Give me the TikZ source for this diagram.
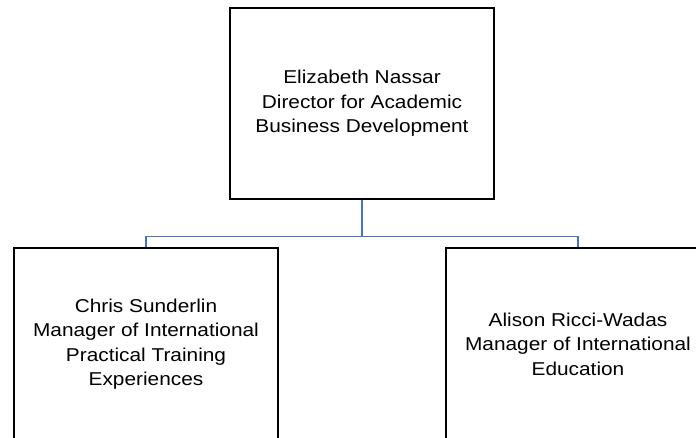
\documentclass[tikz,border=0pt]{standalone}
\usepackage{fontspec}
\setmainfont{Liberation Sans}[FakeStretch=1.12]
\definecolor{linkblue}{RGB}{68,114,196}
\begin{document}
\begin{tikzpicture}[x=1pt,y=-1pt,
  orgbox/.style={draw=black, line width=2pt, fill=white, rectangle, align=center,
    font=\fontsize{18.6}{24.5}\selectfont, inner sep=0pt},
  link/.style={draw=linkblue, line width=1.5pt}]
\useasboundingbox (0,0) rectangle (696,437);
\clip (0,0) rectangle (696,437);
\node[orgbox, minimum width=264.5pt, minimum height=191.3pt] (top) at (362,103.4)
  {Elizabeth Nassar\\Director for Academic\\Business Development};
\node[orgbox, minimum width=264.5pt, minimum height=192pt] (left) at (146,344)
  {Chris Sunderlin\\Manager of International\\Practical Training\\Experiences};
\node[orgbox, minimum width=264.5pt, minimum height=192pt] (right) at (578,344)
  {Alison Ricci-Wadas\\Manager of International\\Education};
\coordinate (mid) at (362,236.7);
\draw[link] (top.south) -- (mid) -| (left.north);
\draw[link] (mid) -| (right.north);
\end{tikzpicture}
\end{document}
